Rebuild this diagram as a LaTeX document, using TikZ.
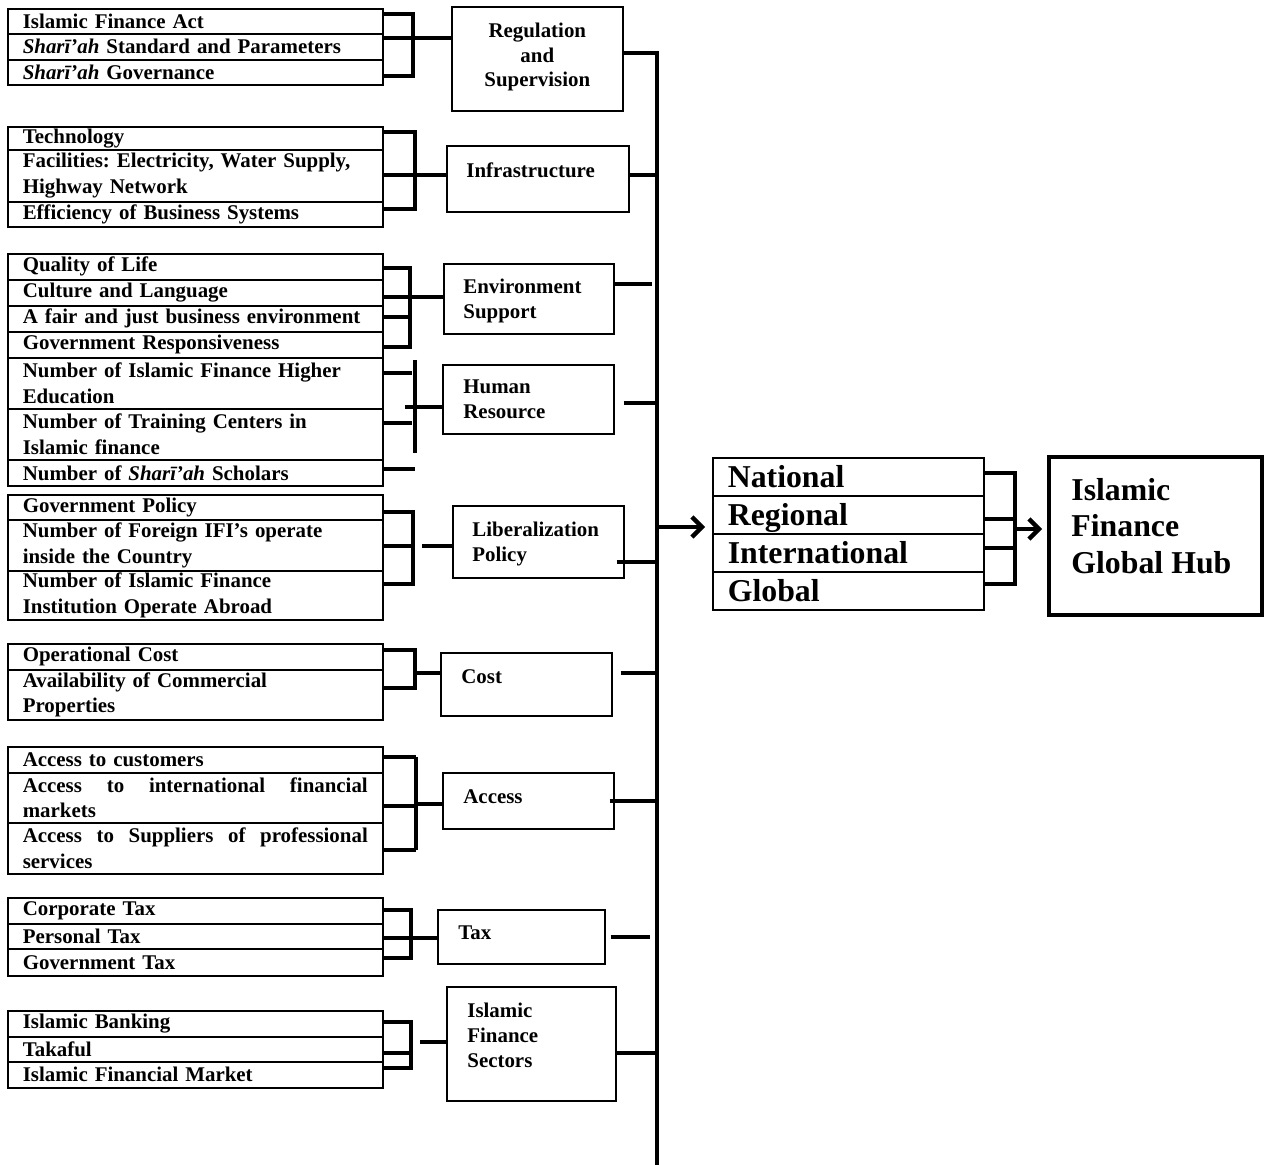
\documentclass[tikz,border=0pt]{standalone}
\usepackage{fontspec}
\setmainfont{Liberation Serif}
\usetikzlibrary{arrows.meta,calc}
\hyphenpenalty=10000
\frenchspacing
\newcommand\entryfont{\fontsize{10.45}{12.75}\selectfont\bfseries}
\newcommand\bigfont{\fontsize{15.9}{18.25}\selectfont\bfseries}
\tikzset{
    entry/.style={draw, line width=0.8pt, anchor=north west, text width=172.5pt, inner xsep=7.5pt, inner ysep=0pt, align=left, font=\entryfont},
    factor/.style={draw, line width=0.8pt, anchor=north west, inner sep=0pt, minimum width=85.5pt},
    ftext/.style={anchor=north west, inner sep=0pt, align=left, font=\fontsize{10.45}{12.4}\selectfont\bfseries},
    tier/.style={draw, line width=0.8pt, anchor=north west, text width=120.5pt, inner xsep=7.5pt, inner ysep=0pt, minimum height=19pt, text height=11pt, text depth=0pt, align=left, font=\bigfont},
    hubbox/.style={draw, line width=2pt, anchor=north west, inner sep=0pt, minimum width=106.5pt, minimum height=79pt},
    brace/.style={line width=2pt},
    link/.style={line width=2.2pt},
    spine/.style={line width=2pt},
    arrowtip/.style={-{Straight Barb[length=5pt,width=10pt]}},
}
\begin{document}
\begin{tikzpicture}[x=0.5pt, y=-0.5pt]
    \useasboundingbox (0,0) rectangle (1269,1165);

    % left column
    \node[entry, minimum height=12.5pt] (r11) at (7,8) {Islamic Finance Act};
    \node[entry, minimum height=13pt] (r12) at (7,33) {\textit{Sharī’ah} Standard and Parameters};
    \node[entry, minimum height=12.5pt] (r13) at (7,59) {\textit{Sharī’ah} Governance};

    \node[entry, minimum height=11.5pt] (r21) at (7,126) {Technology};
    \node[entry, minimum height=26pt] (r22) at (7,149) {Facilities: Electricity, Water Supply,\\Highway Network};
    \node[entry, minimum height=12.5pt] (r23) at (7,201) {Efficiency of Business Systems};

    \node[entry, minimum height=13pt] (r31) at (7,253) {Quality of Life};
    \node[entry, minimum height=13pt] (r32) at (7,279) {Culture and Language};
    \node[entry, minimum height=13pt] (r33) at (7,305) {A fair and just business environment};
    \node[entry, minimum height=13pt] (r34) at (7,331) {Government Responsiveness};
    \node[entry, minimum height=25.5pt] (r35) at (7,357) {Number of Islamic Finance Higher\\Education};
    \node[entry, minimum height=25.5pt] (r36) at (7,408) {Number of Training Centers in\\Islamic finance};
    \node[entry, minimum height=13pt] (r37) at (7,459) {Number of \textit{Sharī’ah} Scholars};

    \node[entry, minimum height=12.5pt] (r41) at (7,494) {Government Policy};
    \node[entry, minimum height=25.5pt] (r42) at (7,519) {Number of Foreign IFI’s operate\\inside the Country};
    \node[entry, minimum height=24.5pt] (r43) at (7,570) {Number of Islamic Finance\\Institution Operate Abroad};

    \node[entry, minimum height=13pt] (r51) at (7,643) {Operational Cost};
    \node[entry, minimum height=25pt] (r52) at (7,669) {Availability of Commercial\\Properties};

    \node[entry, minimum height=13pt] (r61) at (7,746) {Access to customers};
    \node[entry, minimum height=25pt, align=justify] (r62) at (7,772) {Access to international financial markets};
    \node[entry, minimum height=25.5pt, align=justify] (r63) at (7,822) {Access to Suppliers of professional services};

    \node[entry, minimum height=13pt] (r71) at (7,897) {Corporate Tax};
    \node[entry, minimum height=12.5pt] (r72) at (7,923) {Personal Tax};
    \node[entry, minimum height=13.5pt] (r73) at (7,948) {Government Tax};

    \node[entry, minimum height=13pt] (r81) at (7,1010) {Islamic Banking};
    \node[entry, minimum height=12.5pt] (r82) at (7,1036) {Takaful};
    \node[entry, minimum height=13pt] (r83) at (7,1061) {Islamic Financial Market};

    % factor boxes
    \node[factor, minimum height=52pt] (reg) at (451,6) {};
    \node[ftext, anchor=north, align=center] (regT) at ([yshift=-8.25pt]reg.north) {Regulation\\and\\Supervision};
    \node[factor, minimum width=91pt, minimum height=33pt] (infra) at (446,145) {};
    \node[ftext] (infraT) at ([shift={(10pt,-8.75pt)}]infra.north west) {Infrastructure};
    \node[factor, minimum width=85pt, minimum height=35pt] (env) at (443,263) {};
    \node[ftext] (envT) at ([shift={(10pt,-7.75pt)}]env.north west) {Environment\\Support};
    \node[factor, minimum height=34.5pt] (hr) at (442,364) {};
    \node[ftext] (hrT) at ([shift={(10.5pt,-7.75pt)}]hr.north west) {Human\\Resource};
    \node[factor, minimum height=36pt] (lib) at (452,505) {};
    \node[ftext] (libT) at ([shift={(10pt,-8.25pt)}]lib.north west) {Liberalization\\Policy};
    \node[factor, minimum height=31.5pt] (cost) at (440,652) {};
    \node[ftext] (costT) at ([shift={(10.5pt,-8.75pt)}]cost.north west) {Cost};
    \node[factor, minimum height=28pt] (access) at (442,772) {};
    \node[ftext] (accessT) at ([shift={(10.5pt,-8.75pt)}]access.north west) {Access};
    \node[factor, minimum width=83.5pt, minimum height=27pt] (tax) at (437,909) {};
    \node[ftext] (taxT) at ([shift={(10.5pt,-8.25pt)}]tax.north west) {Tax};
    \node[factor, minimum width=84.5pt, minimum height=57pt] (sect) at (446,986) {};
    \node[ftext] (sectT) at ([shift={(10.5pt,-8.25pt)}]sect.north west) {Islamic\\Finance\\Sectors};

    % levels and hub
    \node[tier] (lv1) at (712,457) {National};
    \node[tier] (lv2) at (712,495) {Regional};
    \node[tier] (lv3) at (712,533) {International};
    \node[tier] (lv4) at (712,571) {Global};
    \node[hubbox] (hub) at (1047,455) {};
    \node[ftext, font=\bigfont] (hubT) at ([shift={(12pt,-11.5pt)}]hub.north west) {Islamic\\Finance\\Global Hub};

    % bracket corners
    \coordinate (g1t) at (413,14);   \coordinate (g1m) at (413,38);   \coordinate (g1b) at (413,76);
    \coordinate (g2t) at (415,132);  \coordinate (g2m) at (415,175);  \coordinate (g2b) at (415,209);
    \coordinate (g3t) at (410,268);  \coordinate (g3m) at (410,297);  \coordinate (g3s) at (410,317);  \coordinate (g3b) at (410,347);
    \coordinate (g4t) at (415,360);  \coordinate (g4a) at (415,373);  \coordinate (g4m) at (415,407);  \coordinate (g4c) at (415,423);
    \coordinate (g4b) at (415,453);  \coordinate (g4d) at (415,469);
    \coordinate (g5t) at (413,512);  \coordinate (g5m) at (413,546);  \coordinate (g5b) at (413,584);
    \coordinate (g6t) at (415,650);  \coordinate (g6m) at (415,673);  \coordinate (g6b) at (415,688);
    \coordinate (g7t) at (416,757);  \coordinate (g7m) at (416,804);  \coordinate (g7b) at (416,850);  \coordinate (g7c) at (416,806);
    \coordinate (g8t) at (411,910);  \coordinate (g8m) at (411,938);  \coordinate (g8b) at (411,958);
    \coordinate (g9t) at (411,1022); \coordinate (g9l) at (420,1042); \coordinate (g9m) at (411,1053); \coordinate (g9b) at (411,1068);
    \coordinate (gRt) at (1015,473); \coordinate (gR2) at (1015,519); \coordinate (gRm) at (1015,529);
    \coordinate (gR3) at (1015,548); \coordinate (gRb) at (1015,584);

    % spine points
    \foreach \n/\y in {1/53,2/175,3/284,4/403,5/562,6/673,7/801,8/937,9/1053,A/527,B/1165}
        \coordinate (s\n) at (657,\y);

    \draw[brace] (r11.east |- g1t) -- (g1t) -- (g1b) -- (r13.east |- g1b);
    \draw[brace] (r12.east |- g1m) -- (reg.west |- g1m);
    \draw[brace] (r21.east |- g2t) -- (g2t) -- (g2b) -- (r23.east |- g2b);
    \draw[brace] (r22.east |- g2m) -- (infra.west |- g2m);
    \draw[brace] (r31.east |- g3t) -- (g3t) -- (g3b) -- (r34.east |- g3b);
    \draw[brace] (r32.east |- g3m) -- (env.west |- g3m);
    \draw[brace] (r33.east |- g3s) -- (g3s);
    \draw[brace] (g4t) -- (g4b);
    \draw[brace] (r35.east |- g4a) -- ([xshift=-1.5pt]g4a);
    \draw[brace] (r36.east |- g4c) -- ([xshift=-1.5pt]g4c);
    \draw[brace] (r37.east |- g4d) -- (g4d);
    \draw[brace] ([xshift=-5pt]g4m) -- (hr.west |- g4m);
    \draw[brace] (r41.east |- g5t) -- (g5t) -- (g5b) -- (r43.east |- g5b);
    \draw[brace] (r42.east |- g5m) -- (g5m);
    \draw[brace] ([xshift=4.5pt]g5m) -- (lib.west |- g5m);
    \draw[brace] (r51.east |- g6t) -- (g6t) -- (g6b) -- (r52.east |- g6b);
    \draw[brace] (g6m) -- (cost.west |- g6m);
    \draw[brace] (g7t) -- (g7b);
    \draw[brace] (r61.east |- g7t) -- (g7t);
    \draw[brace] (r62.east |- g7c) -- (g7c);
    \draw[brace] (r63.east |- g7b) -- (g7b);
    \draw[brace] (g7m) -- (access.west |- g7m);
    \draw[brace] (r71.east |- g8t) -- (g8t) -- (g8b) -- (r73.east |- g8b);
    \draw[brace] (r72.east |- g8m) -- (tax.west |- g8m);
    \draw[brace] (r81.east |- g9t) -- (g9t) -- (g9b) -- (r83.east |- g9b);
    \draw[brace] (r82.east |- g9m) -- (g9m);
    \draw[brace] (g9l) -- (sect.west |- g9l);

    \draw[spine] (reg.east |- s1) -- (s1) -- (sB);
    \draw[link] (infra.east |- s2) -- (s2);
    \draw[link, shorten >=2.5pt] (env.east |- s3) -- (s3);
    \draw[link] ([xshift=4.5pt]hr.east |- s4) -- (s4);
    \draw[link] ([xshift=-4pt]lib.east |- s5) -- (s5);
    \draw[link] ([xshift=4pt]cost.east |- s6) -- (s6);
    \draw[link] ([xshift=-2.5pt]access.east |- s7) -- (s7);
    \draw[link, shorten >=3.5pt] ([xshift=2.5pt]tax.east |- s8) -- (s8);
    \draw[link] (sect.east |- s9) -- (s9);
    \draw[link, arrowtip, shorten >=3.5pt] (sA) -- (lv2.west |- sA);

    \draw[brace] (lv1.east |- gRt) -- (gRt) -- (gRb) -- (lv4.east |- gRb);
    \draw[brace] (lv2.east |- gR2) -- (gR2);
    \draw[brace] (lv3.east |- gR3) -- (gR3);
    \draw[link, arrowtip, shorten >=2.5pt] (gRm) -- (hub.west |- gRm);
\end{tikzpicture}
\end{document}
